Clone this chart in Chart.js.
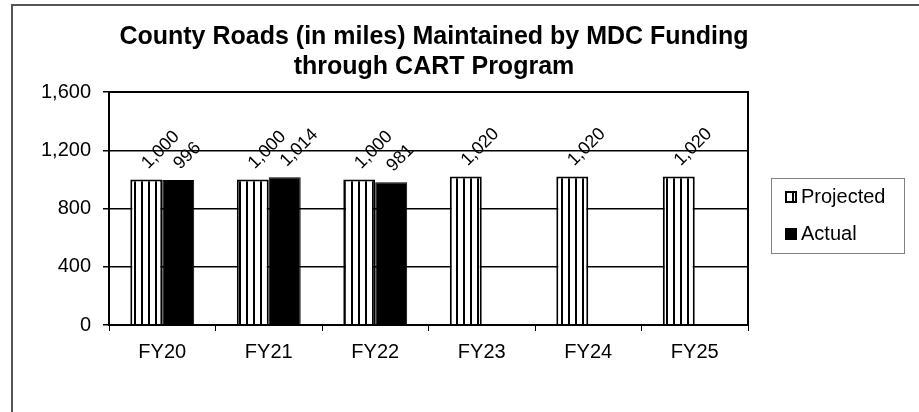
<!DOCTYPE html>
<html>
<head>
<meta charset="utf-8">
<script src="https://cdn.jsdelivr.net/npm/chart.js@4"></script>
<style>
  html, body { margin: 0; padding: 0; background: #fff; }
</style>
</head>
<body>
<canvas id="myChart" width="919" height="412"></canvas>
<script>
const titleLines = ['County Roads (in miles) Maintained by MDC Funding', 'through CART Program'];
const categories = ['FY20', 'FY21', 'FY22', 'FY23', 'FY24', 'FY25'];
const projected = [1000, 1000, 1000, 1020, 1020, 1020];
const actual = [996, 1014, 981, null, null, null];
const yTicks = [0, 400, 800, 1200, 1600];

const FONT = "'Liberation Sans', Arial, sans-serif";

// vertical stripe fill for the Projected bars
function stripes() {
  const c = document.createElement('canvas');
  c.width = 7; c.height = 7;
  const g = c.getContext('2d');
  g.fillStyle = '#fff';
  g.fillRect(0, 0, 7, 7);
  g.fillStyle = '#000';
  g.fillRect(1, 0, 2, 7);
  return g.createPattern(c, 'repeat');
}
const stripeFill = stripes();

const fmt = v => v.toLocaleString('en-US');

const decor = {
  id: 'decor',
  beforeDraw(chart) {
    const ctx = chart.ctx;
    ctx.save();
    ctx.fillStyle = '#fff';
    ctx.fillRect(0, 0, chart.width, chart.height);
    // outer frame
    ctx.strokeStyle = '#555';
    ctx.lineWidth = 2;
    ctx.strokeRect(12, 5, chart.width, chart.height);
    // title
    ctx.fillStyle = '#000';
    ctx.font = 'bold 25px ' + FONT;
    ctx.textAlign = 'center';
    ctx.textBaseline = 'middle';
    ctx.fillText(titleLines[0], 434, 37);
    ctx.fillText(titleLines[1], 434, 67);
    ctx.restore();
  },
  afterDatasetsDraw(chart) {
    const ctx = chart.ctx;
    const a = chart.chartArea;
    ctx.save();
    ctx.strokeStyle = '#000';
    ctx.lineWidth = 2;
    ctx.strokeRect(a.left, a.top, a.right - a.left, a.bottom - a.top);

    // rotated value labels
    ctx.fillStyle = '#000';
    ctx.font = '18px ' + FONT;
    ctx.textAlign = 'left';
    ctx.textBaseline = 'alphabetic';
    chart.data.datasets.forEach((ds, i) => {
      chart.getDatasetMeta(i).data.forEach((bar, j) => {
        const v = ds.data[j];
        if (v == null) return;
        ctx.save();
        ctx.translate(bar.x + 2, bar.y - 10);
        ctx.rotate(-Math.PI / 4);
        ctx.fillText(fmt(v), 0, 0);
        ctx.restore();
      });
    });

    // legend
    ctx.strokeStyle = '#808080';
    ctx.lineWidth = 1;
    ctx.strokeRect(771.5, 178.5, 133, 75);
    const items = chart.data.datasets;
    items.forEach((ds, i) => {
      const y = 197 + i * 37;
      ctx.fillStyle = ds.backgroundColor;
      ctx.fillRect(785, y - 6, 12, 12);
      ctx.strokeStyle = '#000';
      ctx.lineWidth = 2;
      ctx.strokeRect(786, y - 5, 10, 10);
      ctx.fillStyle = '#000';
      ctx.font = '20px ' + FONT;
      ctx.textBaseline = 'middle';
      ctx.fillText(ds.label, 801, y);
    });
    ctx.restore();
  }
};

new Chart(document.getElementById('myChart'), {
  type: 'bar',
  data: {
    labels: categories,
    datasets: [
      {
        label: 'Projected',
        data: projected,
        backgroundColor: stripeFill,
        borderColor: '#000',
        borderWidth: 2,
        categoryPercentage: 0.6,
        barPercentage: 1
      },
      {
        label: 'Actual',
        data: actual,
        backgroundColor: '#000',
        borderColor: '#000',
        borderWidth: 1,
        categoryPercentage: 0.6,
        barPercentage: 1
      }
    ]
  },
  options: {
    responsive: false,
    animation: false,
    layout: { padding: { left: 12, right: 171, top: 92, bottom: 47 } },
    plugins: {
      legend: { display: false },
      title: { display: false },
      tooltip: { enabled: false }
    },
    scales: {
      y: {
        min: 0,
        max: 1600,
        afterBuildTicks(scale) { scale.ticks = yTicks.map(v => ({ value: v })); },
        afterFit(scale) { scale.width = 97; },
        ticks: {
          color: '#000',
          padding: 12,
          font: { family: FONT, size: 20 },
          callback: v => fmt(v)
        },
        grid: { color: '#000', lineWidth: 1.5, tickLength: 6 },
        border: { color: '#000', width: 2 }
      },
      x: {
        afterFit(scale) { scale.height = 40; },
        ticks: {
          color: '#000',
          padding: 9,
          font: { family: FONT, size: 20 }
        },
        grid: { drawOnChartArea: false, color: '#000', lineWidth: 1, tickLength: 6 },
        border: { color: '#000', width: 2 }
      }
    }
  },
  plugins: [decor]
});
</script>
</body>
</html>
